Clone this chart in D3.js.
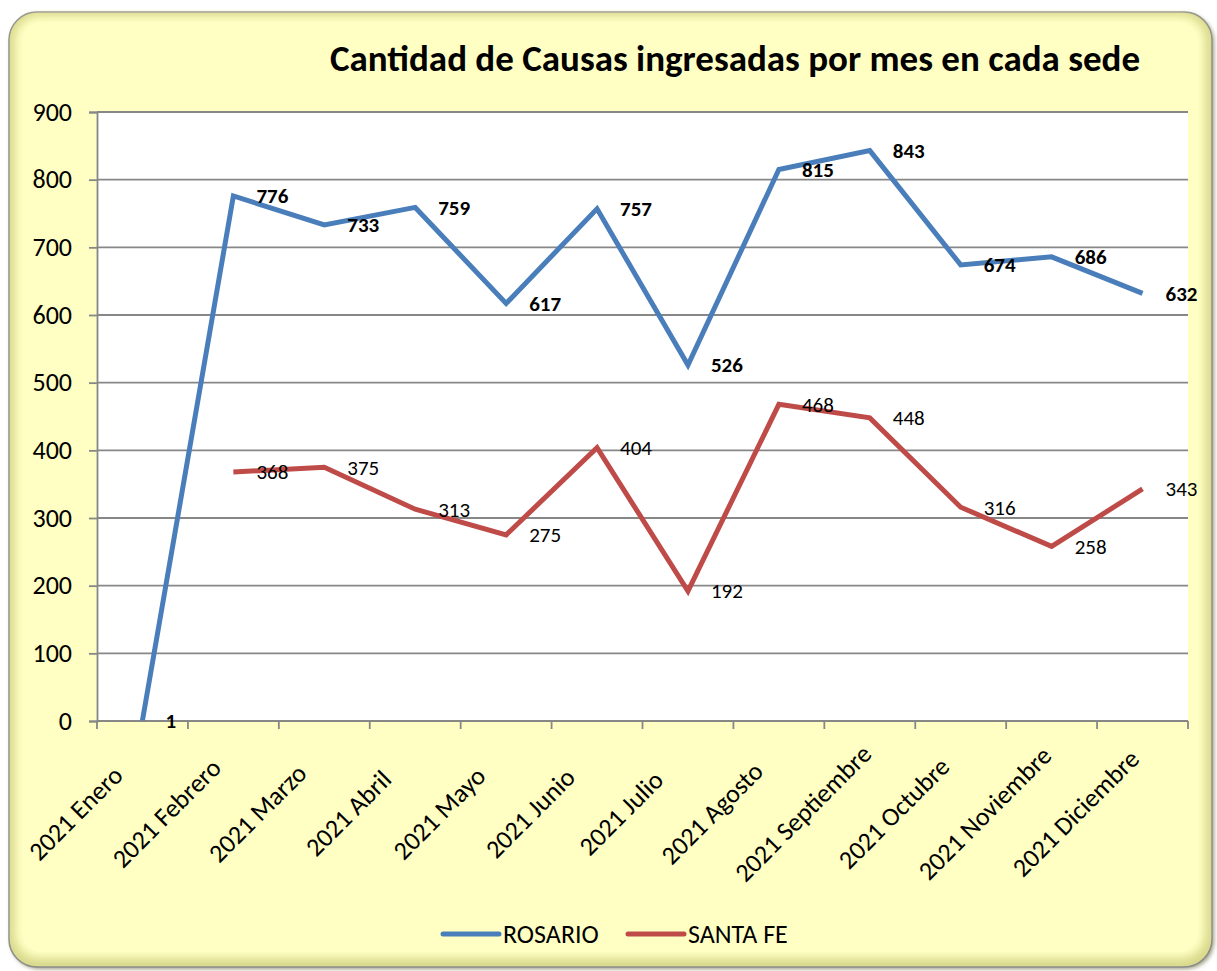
<!DOCTYPE html>
<html>
<head>
<meta charset="utf-8">
<script src="https://cdn.jsdelivr.net/npm/d3@7"></script>
<style>
  body { margin: 0; background: #fff; }
  text { font-family: Carlito, Calibri, Lato, sans-serif; }
</style>
</head>
<body>
<script>
var months = ["2021 Enero", "2021 Febrero", "2021 Marzo", "2021 Abril", "2021 Mayo", "2021 Junio",
              "2021 Julio", "2021 Agosto", "2021 Septiembre", "2021 Octubre", "2021 Noviembre", "2021 Diciembre"];
var rosario = [1, 776, 733, 759, 617, 757, 526, 815, 843, 674, 686, 632];
var santaFe = [null, 368, 375, 313, 275, 404, 192, 468, 448, 316, 258, 343];
var yTicks = [0, 100, 200, 300, 400, 500, 600, 700, 800, 900];
var seriesNames = ["ROSARIO", "SANTA FE"];
var seriesColors = ["#4a7ebb", "#be4b48"];

var width = 1217, height = 971;
var margin = {top: 112, right: 29, bottom: 250, left: 97};

var svg = d3.select("body").append("svg")
    .attr("width", width)
    .attr("height", height);

// frame with bevel
var defs = svg.append("defs");
var blur = defs.append("filter").attr("id", "soft")
    .attr("x", "-5%").attr("y", "-5%").attr("width", "110%").attr("height", "110%");
blur.append("feGaussianBlur").attr("stdDeviation", 5);
var shadow = defs.append("filter").attr("id", "shadow")
    .attr("x", "-5%").attr("y", "-5%").attr("width", "110%").attr("height", "110%");
shadow.append("feGaussianBlur").attr("stdDeviation", 2);

svg.append("rect")
    .attr("x", 11).attr("y", 14).attr("width", 1203).attr("height", 955)
    .attr("rx", 28).attr("fill", "#9a9a80").attr("filter", "url(#shadow)");
svg.append("rect")
    .attr("x", 9).attr("y", 12).attr("width", 1203).attr("height", 955)
    .attr("rx", 28).attr("fill", "#d9d98c").attr("stroke", "#8a8a8a").attr("stroke-width", 1.5);
svg.append("rect")
    .attr("x", 15).attr("y", 16).attr("width", 1190).attr("height", 942)
    .attr("rx", 24).attr("fill", "#ffffc4").attr("filter", "url(#soft)");
svg.append("rect")
    .attr("x", 22).attr("y", 22).attr("width", 1176).attr("height", 930)
    .attr("rx", 20).attr("fill", "#ffffc4");

var innerW = width - margin.left - margin.right;
var innerH = 721 - margin.top;

var x = d3.scaleBand().domain(months).range([margin.left, margin.left + innerW]);
var y = d3.scaleLinear().domain([0, 900]).range([margin.top + innerH, margin.top]);

svg.append("rect")
    .attr("x", margin.left).attr("y", margin.top)
    .attr("width", innerW).attr("height", innerH)
    .attr("fill", "#fff");

// title
svg.append("text")
    .attr("x", 735).attr("y", 71)
    .attr("text-anchor", "middle")
    .style("font-size", "37px").style("font-weight", "bold")
    .text("Cantidad de Causas ingresadas por mes en cada sede");

// grid
svg.append("g").selectAll("line")
    .data(yTicks.filter(function(d){ return d > 0; }))
    .enter().append("line")
    .attr("x1", margin.left).attr("x2", margin.left + innerW)
    .attr("y1", function(d){ return y(d); }).attr("y2", function(d){ return y(d); })
    .attr("stroke", "#878787").attr("stroke-width", 1.8);

// y axis
var yAxis = svg.append("g")
    .attr("transform", "translate(" + margin.left + ",0)")
    .call(d3.axisLeft(y).tickValues(yTicks).tickSize(8).tickPadding(17).tickFormat(d3.format("d")));
yAxis.select(".domain").attr("stroke", "#878787").attr("stroke-width", 1.8);
yAxis.selectAll(".tick line").attr("stroke", "#878787").attr("stroke-width", 1.8);
yAxis.selectAll("text").style("font-size", "26px").attr("fill", "#000")
    .style("font-family", "Carlito, Calibri, Lato, sans-serif");

// x axis
var xAxis = svg.append("g")
    .attr("transform", "translate(0," + (margin.top + innerH) + ")")
    .call(d3.axisBottom(x).tickSize(0).tickFormat(""));
xAxis.select(".domain").attr("stroke", "#878787").attr("stroke-width", 1.8)
    .attr("d", "M" + margin.left + ",0H" + (margin.left + innerW));
xAxis.selectAll(".tick").remove();
xAxis.selectAll("line.boundary")
    .data(months.concat(["end"]))
    .enter().append("line")
    .attr("x1", function(d, i){ return margin.left + i * x.bandwidth(); })
    .attr("x2", function(d, i){ return margin.left + i * x.bandwidth(); })
    .attr("y1", 0).attr("y2", 8)
    .attr("stroke", "#878787").attr("stroke-width", 1.8);

// rotated category labels, centred like Excel does
svg.append("g").selectAll("text")
    .data(months)
    .enter().append("text")
    .attr("transform", function(d){
        return "translate(" + (x(d) + x.bandwidth() / 2 - 67) + "," + 813 + ") rotate(-45)";
    })
    .attr("text-anchor", "middle")
    .attr("dy", "0.35em")
    .style("font-size", "26px")
    .text(function(d){ return d; });

// lines
var series = [rosario, santaFe];
var line = d3.line()
    .defined(function(d){ return d != null; })
    .x(function(d, i){ return x(months[i]) + x.bandwidth() / 2; })
    .y(function(d){ return y(d); });

series.forEach(function(s, k){
    svg.append("path")
        .datum(s)
        .attr("d", line)
        .attr("fill", "none")
        .attr("stroke", seriesColors[k])
        .attr("stroke-width", 5)
        .attr("stroke-linejoin", "miter");
});

// data labels
series.forEach(function(s, k){
    svg.append("g").selectAll("text")
        .data(s.map(function(v, i){ return {v: v, m: months[i]}; })
            .filter(function(d){ return d.v != null; }))
        .enter().append("text")
        .attr("x", function(d){ return x(d.m) + x.bandwidth() / 2 + 23; })
        .attr("y", function(d){ return y(d.v); })
        .attr("dy", "0.35em")
        .style("font-size", "21px")
        .style("font-weight", k === 0 ? "bold" : "normal")
        .text(function(d){ return d.v; });
});

// legend
var legendX = [443, 628];
var legend = svg.append("g").selectAll("g")
    .data(seriesNames)
    .enter().append("g")
    .attr("transform", function(d, i){ return "translate(" + legendX[i] + ",934)"; });
legend.append("line")
    .attr("x1", 0).attr("x2", 56).attr("y1", 0).attr("y2", 0)
    .attr("stroke", function(d, i){ return seriesColors[i]; })
    .attr("stroke-width", 5).attr("stroke-linecap", "round");
legend.append("text")
    .attr("x", 60).attr("y", 0).attr("dy", "0.35em")
    .style("font-size", "26px")
    .text(function(d){ return d; });
</script>
</body>
</html>
